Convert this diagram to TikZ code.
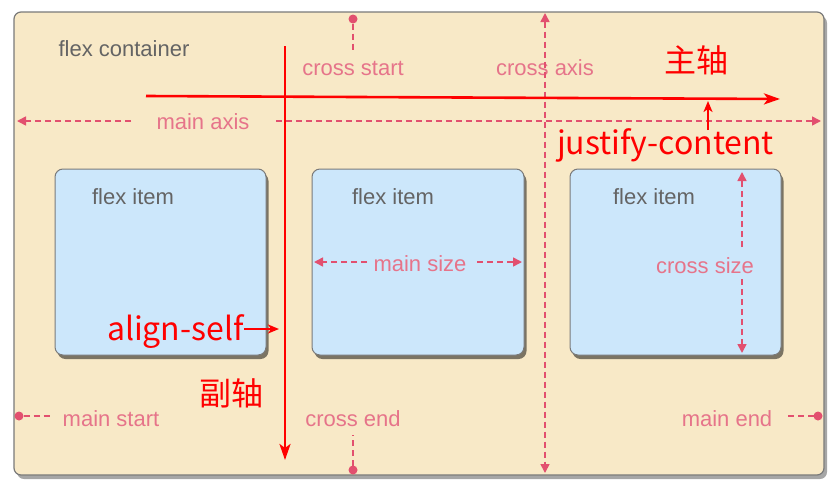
\documentclass[tikz,border=0pt]{standalone}
\usepackage{fontspec}
\setmainfont{Liberation Sans}
\newfontfamily\cjk{Noto Sans CJK SC}
\usetikzlibrary{arrows.meta,shadows,calc}
\definecolor{beige}{HTML}{F8E9C7}
\definecolor{itemblue}{HTML}{CCE7FB}
\definecolor{pinkline}{HTML}{E2506F}
\definecolor{pinktext}{HTML}{E6748A}
\definecolor{graytext}{HTML}{646464}
\definecolor{redann}{HTML}{FF0000}
\definecolor{borderg}{HTML}{7A7A7A}
\begin{document}
\begin{tikzpicture}[x=1pt,y=-1pt,
  every node/.style={inner sep=0pt, outer sep=0pt},
  plbl/.style={font=\fontsize{22}{22}\selectfont, text=pinktext},
  glbl/.style={font=\fontsize{22}{22}\selectfont, text=graytext},
  redlbl/.style={font=\cjk\fontsize{32}{32}\selectfont, text=redann},
  dline/.style={draw=pinkline, line width=1.6pt, dash pattern=on 6pt off 4pt},
  ptip/.style={-{Triangle[length=9pt,width=9pt]}},
  pboth/.style={{Triangle[length=9pt,width=9pt]}-{Triangle[length=9pt,width=9pt]}},
  dotend/.style={circle, fill=pinkline, minimum size=9pt},
  itembox/.style={draw=borderg, fill=itemblue, rounded corners=8pt, line width=1pt,
    drop shadow={shadow xshift=2.5pt, shadow yshift=-4pt, fill=black, opacity=0.5}},
  redline/.style={draw=redann, line width=2.6pt},
  redtip/.style={-{Stealth[length=16pt,width=11pt,inset=4pt]}},
  smalltip/.style={-{Stealth[length=11pt,width=9pt,inset=3pt]}}
]
\useasboundingbox (0,0) rectangle (833,488);
\fill[white] (0,0) rectangle (833,488);

% container
\draw[draw=borderg, fill=beige, rounded corners=7pt, line width=1.2pt,
  drop shadow={shadow xshift=3pt, shadow yshift=-4pt, fill=black, opacity=0.35}]
  (14,12) rectangle (824,475);

% flex items
\node[itembox, minimum width=211pt, minimum height=186pt, anchor=north west] (item1) at (55,169) {};
\node[itembox, minimum width=212pt, minimum height=186pt, anchor=north west] (item2) at (312,169) {};
\node[itembox, minimum width=211pt, minimum height=186pt, anchor=north west] (item3) at (570,169) {};

% gray labels
\node[glbl] (fc) at (124,49) {flex container};
\node[glbl] (fi1) at (133,197) {flex item};
\node[glbl] (fi2) at (393,197) {flex item};
\node[glbl] (fi3) at (654,197) {flex item};

% pink labels
\node[plbl] (crossstart) at (353,68) {cross start};
\node[plbl] (crossaxis) at (545,68) {cross axis};
\node[plbl] (mainaxis) at (203,122) {main axis};
\node[plbl] (mainsize) at (420,264) {main size};
\node[plbl] (crosssize) at (705,266) {cross size};
\node[plbl] (mainstart) at (111,419) {main start};
\node[plbl] (crossend) at (353,419) {cross end};
\node[plbl] (mainend) at (727,419) {main end};

% coordinates for pink connectors
\coordinate (maLtip) at (17,121);
\coordinate (maL) at (131,121);
\coordinate (maR) at (276,121);
\coordinate (maRtip) at (821,121);
\coordinate (caTop) at (545,13);
\coordinate (caBot) at (545,473);
\coordinate (csEnd) at (353,51);
\coordinate (ceEnd) at (353,435);
\coordinate (msEnd) at (52,416);
\coordinate (meEnd) at (785,416);
\coordinate (szLtip) at (314,262);
\coordinate (szL) at (367,262);
\coordinate (szR) at (477,262);
\coordinate (szRtip) at (522,262);
\coordinate (cszTtip) at (742,172);
\coordinate (cszT) at (742,247);
\coordinate (cszB) at (742,279);
\coordinate (cszBtip) at (742,353);

\node[dotend] (csdot) at (353,19) {};
\node[dotend] (cedot) at (353,470) {};
\node[dotend] (msdot) at (19,416) {};
\node[dotend] (medot) at (818,416) {};

\draw[dline, ptip] (maL) -- (maLtip);
\draw[dline, ptip] (maR) -- (maRtip);
\draw[dline, pboth] (caTop) -- (caBot);
\draw[dline] (csdot) -- (csEnd);
\draw[dline] (cedot) -- (ceEnd);
\draw[dline] (msdot) -- (msEnd);
\draw[dline] (medot) -- (meEnd);
\draw[dline, ptip] (szL) -- (szLtip);
\draw[dline, ptip] (szR) -- (szRtip);
\draw[dline, ptip] (cszT) -- (cszTtip);
\draw[dline, ptip] (cszB) -- (cszBtip);

% red annotations
\coordinate (mainS) at (146,96);
\coordinate (mainE) at (780,99);
\coordinate (crossS) at (285,46);
\coordinate (crossE) at (285,460);
\draw[redline, redtip] (mainS) -- (mainE);
\draw[redline, redtip] (crossS) -- (crossE);

\node[redlbl, anchor=center] (zhu) at (696,60) {主轴};
\node[redlbl, anchor=center] (fu) at (231,393) {副轴};
\node[redlbl, anchor=base west] (justify) at (557,154) {justify-content};
\node[redlbl, anchor=base west] (alignself) at (107,340) {align-self};

\coordinate (jcS) at (708,130);
\coordinate (jcE) at (708,101);
\coordinate (asS) at (244,329);
\coordinate (asE) at (279,329);
\draw[redline, line width=2pt, smalltip] (jcS) -- (jcE);
\draw[redline, line width=2pt, smalltip] (asS) -- (asE);
\end{tikzpicture}
\end{document}
